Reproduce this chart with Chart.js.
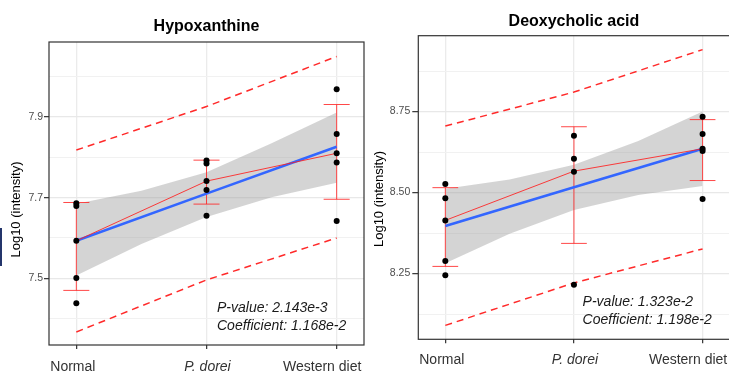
<!DOCTYPE html>
<html lang="en">
<head>
  <meta charset="UTF-8">
  <title>Hypoxanthine / Deoxycholic acid</title>
  <style>
    html, body { margin: 0; padding: 0; background: #fff; overflow: hidden; width: 729px; height: 374px; }
    canvas { position: absolute; top: 0; }
    #left { left: 0; }
    #right { left: 368px; }
    #edge { position: absolute; left: 0; top: 228px; width: 2px; height: 38px; background: #24356b; }
  </style>
</head>
<body>
  <div id="edge"></div>
  <canvas id="left" width="368" height="374"></canvas>
  <canvas id="right" width="420" height="374"></canvas>

  <script src="https://cdn.jsdelivr.net/npm/chart.js"></script>
  <script>
    // shared x categories
    const groups = ['Normal', 'P. dorei', 'Western diet'];
    const groupX = [1, 2, 3];
    const bandX = [1, 1.5, 2, 2.5, 3];

    // Hypoxanthine (left panel)
    const hypoNormal = [7.686, 7.679, 7.593, 7.501, 7.438];
    const hypoDorei = [7.792, 7.785, 7.741, 7.719, 7.655];
    const hypoWestern = [7.969, 7.858, 7.810, 7.787, 7.642];
    const hypoMedian = [7.593, 7.741, 7.810];
    const hypoErrLow = [7.470, 7.684, 7.696];
    const hypoErrHigh = [7.688, 7.793, 7.931];
    const hypoFit = [7.593, 7.710, 7.826];
    const hypoCiUpper = [7.685, 7.717, 7.763, 7.835, 7.911];
    const hypoCiLower = [7.507, 7.585, 7.652, 7.701, 7.737];
    const hypoPredUpper = [7.818, 7.926, 8.050];
    const hypoPredLower = [7.367, 7.496, 7.600];
    const hypoMajor = [7.5, 7.7, 7.9];
    const hypoMinor = [7.4, 7.6, 7.8, 8.0];
    const hypoStats = ['P-value: 2.143e-3', 'Coefficient: 1.168e-2'];

    // Deoxycholic acid (right panel)
    const deoxNormal = [8.526, 8.482, 8.414, 8.289, 8.245];
    const deoxDorei = [8.675, 8.604, 8.564, 8.215];
    const deoxWestern = [8.734, 8.681, 8.635, 8.628, 8.480];
    const deoxMedian = [8.414, 8.566, 8.635];
    const deoxErrLow = [8.272, 8.343, 8.537];
    const deoxErrHigh = [8.515, 8.703, 8.725];
    const deoxFit = [8.397, 8.516, 8.635];
    const deoxCiUpper = [8.512, 8.540, 8.586, 8.659, 8.750];
    const deoxCiLower = [8.282, 8.373, 8.446, 8.492, 8.520];
    const deoxPredUpper = [8.705, 8.810, 8.941];
    const deoxPredLower = [8.090, 8.221, 8.326];
    const deoxMajor = [8.25, 8.50, 8.75];
    const deoxMinor = [8.125, 8.375, 8.625, 8.875];
    const deoxStats = ['P-value: 1.323e-2', 'Coefficient: 1.198e-2'];

    const FONT = '"Liberation Sans", Arial, sans-serif';
    const RED = '#ff2a2a';
    const labelNudge = [-3.5, 1, -14.5];

    const xy = (xs, ys) => xs.map((x, i) => ({ x: x, y: ys[i] }));
    const pts = cols => cols.flatMap((vals, i) => vals.map(v => ({ x: groupX[i], y: v })));

    function panelPlugin(d, lay) {
      return {
        id: 'panel',
        afterDatasetDraw(chart, args) {
          if (args.index !== 1) return;   // error bars sit just above the grey band
          const ctx = chart.ctx, xs = chart.scales.x, ys = chart.scales.y;
          ctx.save();
          ctx.strokeStyle = 'rgba(255,40,40,0.85)';
          ctx.lineWidth = 1;
          groupX.forEach((g, i) => {
            const px = xs.getPixelForValue(g);
            const lo = ys.getPixelForValue(d.errLow[i]);
            const hi = ys.getPixelForValue(d.errHigh[i]);
            const c0 = xs.getPixelForValue(g - 0.1), c1 = xs.getPixelForValue(g + 0.1);
            ctx.beginPath();
            ctx.moveTo(px, lo); ctx.lineTo(px, hi);
            ctx.moveTo(c0, lo); ctx.lineTo(c1, lo);
            ctx.moveTo(c0, hi); ctx.lineTo(c1, hi);
            ctx.stroke();
          });
          ctx.restore();
        },
        afterDraw(chart) {
          const ctx = chart.ctx, a = chart.chartArea, xs = chart.scales.x;
          ctx.save();
          // panel border
          ctx.strokeStyle = '#333';
          ctx.lineWidth = 1.2;
          ctx.strokeRect(a.left, a.top, a.right - a.left, a.bottom - a.top);

          // title
          ctx.fillStyle = '#000';
          ctx.font = 'bold 16px ' + FONT;
          ctx.textAlign = 'center';
          ctx.textBaseline = 'middle';
          ctx.fillText(d.title, (a.left + a.right) / 2, lay.titleY);

          // x labels
          ctx.fillStyle = '#333';
          groups.forEach((g, i) => {
            ctx.font = (i === 1 ? 'italic ' : '') + '14px ' + FONT;
            ctx.fillText(g, xs.getPixelForValue(groupX[i]) + labelNudge[i], a.bottom + lay.xLabelDy);
          });

          // y title
          ctx.fillStyle = '#000';
          ctx.font = '13px ' + FONT;
          ctx.translate(lay.yTitleX, lay.yTitleY);
          ctx.rotate(-Math.PI / 2);
          ctx.fillText('Log10 (intensity)', 0, 0);
          ctx.setTransform(1, 0, 0, 1, 0, 0);

          // stats text
          ctx.fillStyle = '#1a1a1a';
          ctx.font = 'italic 14px ' + FONT;
          ctx.textAlign = 'left';
          ctx.fillText(d.stats[0], a.right - 147, a.bottom - 37);
          ctx.fillText(d.stats[1], a.right - 147, a.bottom - 19);
          ctx.restore();
        }
      };
    }

    function buildChart(id, d, lay) {
      const allTicks = d.major.concat(d.minor).sort((p, q) => p - q);
      const isMajor = v => d.major.includes(v);
      const line = (data, extra) => Object.assign({
        data: data, showLine: true, pointRadius: 0, fill: false
      }, extra);

      new Chart(document.getElementById(id), {
        type: 'scatter',
        data: {
          datasets: [
            line(xy(bandX, d.ciUpper), { borderColor: 'transparent', fill: '+1', backgroundColor: 'rgba(153,153,153,0.42)', order: 6 }),
            line(xy(bandX, d.ciLower), { borderColor: 'transparent', order: 5 }),
            line(xy(groupX, d.predUpper), { borderColor: RED, borderDash: [7, 5], borderWidth: 1.5, order: 4 }),
            line(xy(groupX, d.predLower), { borderColor: RED, borderDash: [7, 5], borderWidth: 1.5, order: 4 }),
            line(xy(groupX, d.fit), { borderColor: '#3366ff', borderWidth: 2.6, order: 3 }),
            line(xy(groupX, d.median), { borderColor: 'rgba(255,30,30,0.85)', borderWidth: 1, order: 2 }),
            { data: pts(d.points), pointRadius: 3, backgroundColor: '#000', borderWidth: 0, order: 1 }
          ]
        },
        options: {
          responsive: false,
          animation: false,
          events: [],
          layout: { padding: { top: lay.top, right: lay.padRight, left: 0, bottom: 0 } },
          plugins: { legend: { display: false }, tooltip: { enabled: false }, title: { display: false } },
          scales: {
            x: {
              type: 'linear',
              min: 0.79,
              max: 3.21,
              afterBuildTicks: s => { s.ticks = groupX.map(v => ({ value: v })); },
              afterFit: s => { s.height = lay.xAxisH; },
              ticks: { display: false },
              border: { display: false },
              grid: { color: '#ebebeb', lineWidth: 1.3, tickColor: '#333', tickLength: 4, tickWidth: 1.2 }
            },
            y: {
              min: d.range[0],
              max: d.range[1],
              afterBuildTicks: s => { s.ticks = allTicks.map(v => ({ value: v })); },
              afterFit: s => { s.width = lay.yAxisW; },
              border: { display: false },
              ticks: {
                autoSkip: false,
                padding: lay.tickPad,
                color: '#4d4d4d',
                font: { family: FONT, size: 10.5 },
                callback: v => isMajor(v) ? v.toFixed(d.decimals) : ''
              },
              grid: {
                color: c => isMajor(c.tick.value) ? '#e8e8e8' : '#f1f1f1',
                lineWidth: c => isMajor(c.tick.value) ? 1.3 : 1,
                tickColor: c => isMajor(c.tick.value) ? '#333' : 'rgba(0,0,0,0)',
                tickLength: lay.tickLen,
                tickWidth: 1.2
              }
            }
          }
        },
        plugins: [panelPlugin(d, lay)]
      });
    }

    buildChart('left', {
      title: 'Hypoxanthine',
      points: [hypoNormal, hypoDorei, hypoWestern],
      median: hypoMedian, errLow: hypoErrLow, errHigh: hypoErrHigh, fit: hypoFit,
      ciUpper: hypoCiUpper, ciLower: hypoCiLower, predUpper: hypoPredUpper, predLower: hypoPredLower,
      major: hypoMajor, minor: hypoMinor, range: [7.3346, 8.086], decimals: 1, stats: hypoStats
    }, { top: 42, padRight: 2.3, yAxisW: 49, xAxisH: 29, tickLen: 5, tickPad: 1,
         titleY: 27, xLabelDy: 22, yTitleX: 16.7, yTitleY: 209.5 });

    buildChart('right', {
      title: 'Deoxycholic acid',
      points: [deoxNormal, deoxDorei, deoxWestern],
      median: deoxMedian, errLow: deoxErrLow, errHigh: deoxErrHigh, fit: deoxFit,
      ciUpper: deoxCiUpper, ciLower: deoxCiLower, predUpper: deoxPredUpper, predLower: deoxPredLower,
      major: deoxMajor, minor: deoxMinor, range: [8.047, 8.984], decimals: 2, stats: deoxStats
    }, { top: 35.7, padRight: 58.4, yAxisW: 50.3, xAxisH: 34.7, tickLen: 6, tickPad: 2,
         titleY: 22, xLabelDy: 21, yTitleX: 11, yTitleY: 199 });
  </script>
</body>
</html>
